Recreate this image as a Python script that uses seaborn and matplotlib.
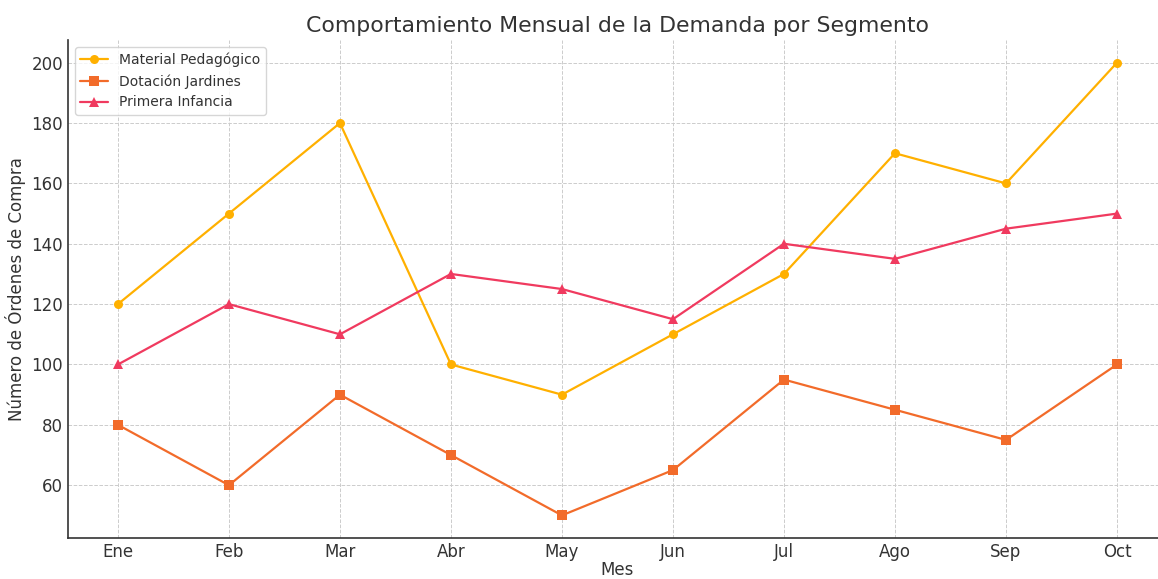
import numpy as np
import pandas as pd
import matplotlib
matplotlib.use("Agg")
import matplotlib.pyplot as plt
import seaborn as sns

# ── Data ──────────────────────────────────────────────────────
meses = ["Ene", "Feb", "Mar", "Abr", "May", "Jun", "Jul", "Ago", "Sep", "Oct"]
material = [120, 150, 180, 100, 90, 110, 130, 170, 160, 200]
dotacion = [80, 60, 90, 70, 50, 65, 95, 85, 75, 100]
infancia = [100, 120, 110, 130, 125, 115, 140, 135, 145, 150]

series = ["Material Pedagógico", "Dotación Jardines", "Primera Infancia"]
colores = ["#FFB000", "#F26B2A", "#F03A5F"]
marcadores = ["o", "s", "^"]

df = pd.DataFrame({"Mes": meses * 3,
                   "Valor": material + dotacion + infancia,
                   "Serie": np.repeat(series, len(meses))})
df["x"] = np.tile(np.arange(len(meses)), 3)

# ── Plot ──────────────────────────────────────────────────────
sns.set_style("white")
plt.rcParams["font.family"] = ["DejaVu Sans"]

fig = plt.figure(figsize=(11.58, 5.79), dpi=100)
ax = fig.add_axes([0.0587, 0.0708, 0.949, 0.860])

for nombre, color, mk in zip(series, colores, marcadores):
    sub = df[df["Serie"] == nombre]
    sns.lineplot(data=sub, x="x", y="Valor", ax=ax, color=color, marker=mk,
                 markersize=6.5, markeredgewidth=0, linewidth=1.6, label=nombre)

ax.set_xticks(range(len(meses)))
ax.set_xticklabels(meses)
ax.set_xlim(-0.45, len(meses) - 1 + 0.45)
ax.set_ylim(42.5, 207.5)
ax.set_yticks([60, 80, 100, 120, 140, 160, 180, 200])

ax.grid(True, linestyle="--", color="#cccccc", linewidth=0.7)
ax.tick_params(direction="in", labelsize=12, colors="#333333", length=4)
for s in ["top", "right"]:
    ax.spines[s].set_visible(False)
for s in ["left", "bottom"]:
    ax.spines[s].set_color("#333333")
    ax.spines[s].set_linewidth(1.2)

ax.set_title("Comportamiento Mensual de la Demanda por Segmento",
             fontsize=15.8, color="#333333")
ax.set_xlabel("Mes", fontsize=12, color="#333333", labelpad=0)
ax.set_ylabel("Número de Órdenes de Compra", fontsize=12, color="#333333")

leg = ax.legend(loc="upper left", fontsize=10, frameon=True)
for t in leg.get_texts():
    t.set_color("#333333")

plt.savefig("out.png", dpi=100)
plt.close()
